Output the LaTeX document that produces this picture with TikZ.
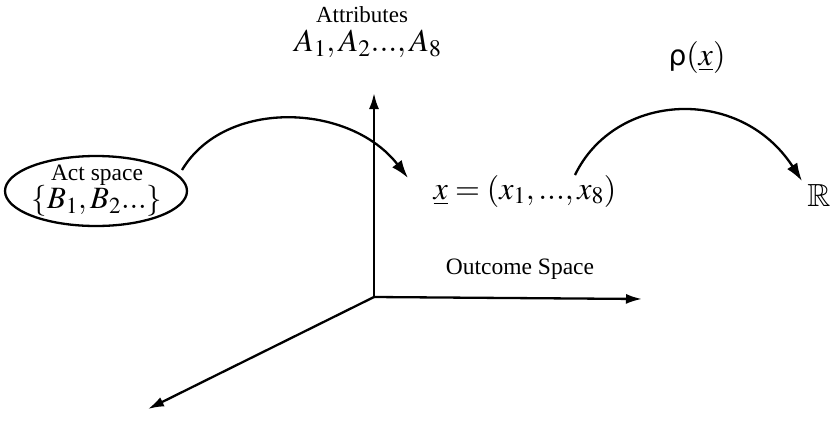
\documentclass[tikz,border=0pt]{standalone}
\usepackage{mathptmx}
\usepackage{amssymb}
\usepackage{fontspec}
\setmainfont{Liberation Serif}
\newfontfamily\greekfont{DejaVu Sans}
\usetikzlibrary{arrows.meta,shapes.geometric}
\tikzset{
  axis/.style={line width=2.3pt,-{Latex[length=16pt,width=10pt]}},
  mapto/.style={line width=2.3pt,-{Latex[length=18pt,width=12pt]}},
  lbl/.style={inner sep=0pt,font=\fontsize{23.5}{26}\selectfont},
  mth/.style={inner sep=0pt,font=\fontsize{32}{36}\selectfont},
}
\begin{document}
\begin{tikzpicture}[x=1pt,y=-1pt]
\useasboundingbox (0,0) rectangle (835,421);
% axes
\coordinate (O) at (374,297);
\coordinate (up) at (374,93);
\coordinate (right) at (642,299);
\coordinate (diag) at (148,409);
\draw[axis] (O) -- (up);
\draw[axis] (O) -- (right);
\draw[axis] (O) -- (diag);
% act space ellipse
\node[ellipse,draw,line width=2.3pt,minimum width=182pt,minimum height=70pt,inner sep=0pt] (act) at (96,191) {};
\node[lbl] (acttxt) at (97,175) {Act space};
\node[mth,font=\fontsize{31}{34}\selectfont] (B) at (97,201) {$\{B_1,B_2...\}$};
% attributes
\node[lbl,font=\fontsize{23}{26}\selectfont] (attr) at (362,15) {Attributes};
\node[mth] (A) at (368,44) {$A_1,A_2...,A_8$};
% outcome vector
\node[mth] (xvec) at (525,191) {$\underline{x}=(x_1,...,x_8)$};
\node[lbl] (outc) at (520,269) {Outcome Space};
% rho and R
\node[mth] (rho) at (697,57) {{\greekfont\fontsize{28}{30}\selectfont ρ}$(\underline{x})$};
\node[mth] (R) at (819,195) {$\mathbb{R}$};
% mapping arrows
\coordinate (s1) at (182,170);
\coordinate (e1) at (408,178);
\coordinate (s2) at (575,175);
\coordinate (e2) at (802,181);
\draw[mapto] (s1) .. controls (225,98) and (350,103) .. (e1);
\draw[mapto] (s2) .. controls (615,92) and (740,85) .. (e2);
\end{tikzpicture}
\end{document}
